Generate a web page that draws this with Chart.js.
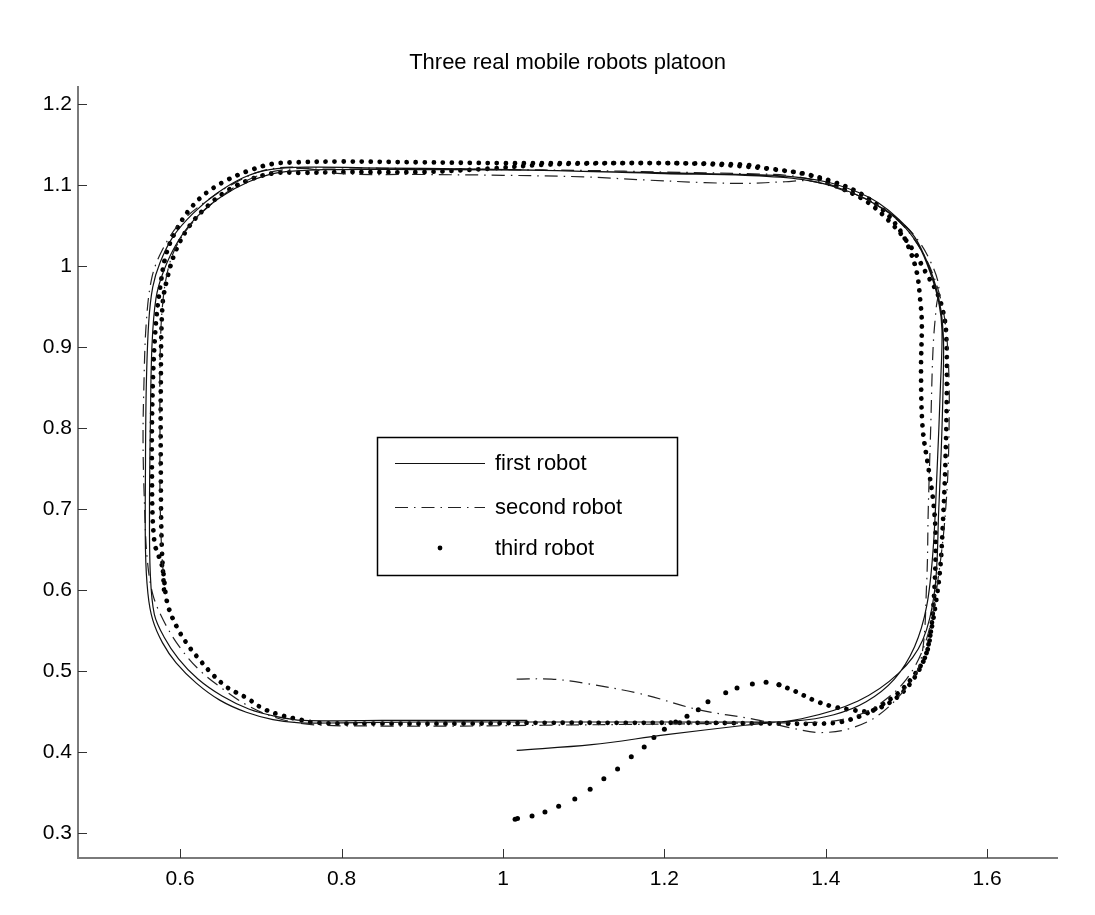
<!DOCTYPE html>
<html>
<head>
<meta charset="utf-8">
<title>Three real mobile robots platoon</title>
<script src="https://cdn.jsdelivr.net/npm/chart.js@4/dist/chart.umd.min.js"></script>
<style>
  html, body { margin: 0; padding: 0; background: #fff; }
  #chartPlatoon { display: block; }
</style>
</head>
<body>
<canvas id="chartPlatoon" width="1095" height="915"></canvas>
<script>
const _ = (id) => document.getElementById(id)

// axes
const xTicks = [0.6, 0.8, 1, 1.2, 1.4, 1.6]
const yTicks = [0.3, 0.4, 0.5, 0.6, 0.7, 0.8, 0.9, 1, 1.1, 1.2]
const xRange = [0.4734, 1.6865]
const yRange = [0.2691, 1.221]

const chartTitle = 'Three real mobile robots platoon'
const robotLabels = ['first robot', 'second robot', 'third robot']

// first robot (solid), two laps
const robot1X = [
  1.017, 1.11, 1.2, 1.3, 1.37, 1.44, 1.49, 1.52, 1.535, 1.54, 1.544, 1.546,
  1.544, 1.54, 1.533, 1.523, 1.51, 1.49, 1.465, 1.44, 1.4, 1.35, 1.25, 1.1,
  0.95, 0.85, 0.76, 0.711, 0.678, 0.646, 0.616, 0.591, 0.575, 0.566, 0.561,
  0.558, 0.557, 0.557, 0.56, 0.566, 0.578, 0.595, 0.62, 0.649, 0.682, 0.715,
  0.748, 0.8, 0.9, 1.0, 1.1, 1.2, 1.3, 1.36,
  1.41, 1.45, 1.485, 1.51, 1.525, 1.533, 1.538, 1.542, 1.544, 1.54, 1.53,
  1.515, 1.49, 1.46, 1.42, 1.37, 1.3, 1.2, 1.05, 0.9, 0.78, 0.72, 0.685, 0.65,
  0.62, 0.597, 0.58, 0.57, 0.565, 0.563, 0.562, 0.563, 0.568, 0.58, 0.598,
  0.622, 0.652, 0.685, 0.718, 0.752, 0.85, 0.95, 1.03,
]
const robot1Y = [
  0.402, 0.409, 0.421, 0.433, 0.441, 0.463, 0.497, 0.538, 0.6, 0.7, 0.8, 0.9,
  0.935, 0.96, 0.986, 1.011, 1.036, 1.058, 1.078, 1.091, 1.104, 1.111, 1.114,
  1.117, 1.12, 1.121, 1.122, 1.119, 1.109, 1.09, 1.065, 1.036, 1.004, 0.974,
  0.93, 0.85, 0.75, 0.65, 0.596, 0.563, 0.535, 0.51, 0.485, 0.464, 0.449,
  0.44, 0.436, 0.436, 0.437, 0.437, 0.437, 0.437, 0.437, 0.438,
  0.446, 0.462, 0.49, 0.53, 0.58, 0.65, 0.75, 0.85, 0.92, 0.955, 0.99,
  1.025, 1.056, 1.077, 1.095, 1.107, 1.112, 1.114, 1.118, 1.119, 1.119,
  1.115, 1.104, 1.085, 1.06, 1.03, 0.995, 0.96, 0.9, 0.8, 0.7, 0.62, 0.57,
  0.542, 0.515, 0.49, 0.469, 0.453, 0.444, 0.439, 0.439, 0.439, 0.439,
]

// second robot (dash-dot), two laps
const robot2X = [
  1.017, 1.06, 1.1, 1.17, 1.243, 1.313, 1.36, 1.394, 1.43, 1.466, 1.5, 1.518,
  1.525, 1.527, 1.53, 1.533, 1.537, 1.54, 1.53, 1.512, 1.49, 1.46, 1.42, 1.38,
  1.35, 1.3, 1.25, 1.18, 1.1, 1.0, 0.9, 0.8, 0.74, 0.7, 0.665, 0.632, 0.599,
  0.578, 0.565, 0.558, 0.555, 0.554, 0.556, 0.559, 0.566, 0.579, 0.599, 0.624,
  0.654, 0.686, 0.72, 0.76, 0.85, 0.95, 1.05, 1.15, 1.25, 1.33,
  1.37, 1.42, 1.46, 1.5, 1.525, 1.54, 1.55, 1.553, 1.552, 1.548, 1.54, 1.527,
  1.508, 1.485, 1.452, 1.41, 1.36, 1.3, 1.2, 1.1, 1.0, 0.9, 0.8, 0.73, 0.69,
  0.655, 0.625, 0.6, 0.586, 0.578, 0.575, 0.575, 0.575, 0.577, 0.58,
]
const robot2Y = [
  0.49, 0.49, 0.485, 0.472, 0.452, 0.44, 0.429, 0.424, 0.429, 0.446, 0.48,
  0.514, 0.609, 0.7, 0.8, 0.9, 0.95, 0.975, 1.005, 1.035, 1.057, 1.078, 1.094,
  1.105, 1.104, 1.102, 1.103, 1.106, 1.11, 1.112, 1.113, 1.114, 1.122, 1.117,
  1.101, 1.08, 1.052, 1.02, 0.986, 0.93, 0.85, 0.78, 0.7, 0.64, 0.595, 0.563,
  0.53, 0.501, 0.477, 0.456, 0.442, 0.434, 0.432, 0.432, 0.433, 0.434, 0.435,
  0.436,
  0.436, 0.44, 0.455, 0.49, 0.54, 0.62, 0.72, 0.82, 0.88, 0.93, 0.968, 1.003,
  1.035, 1.06, 1.081, 1.099, 1.111, 1.114, 1.116, 1.118, 1.119, 1.12, 1.121,
  1.119, 1.109, 1.089, 1.064, 1.033, 1.0, 0.95, 0.88, 0.8, 0.72, 0.65, 0.61,
]

// third robot: separate samples while it accelerates out of the start
const robot3StartX = [
  1.015, 1.018, 1.036, 1.052, 1.069, 1.089, 1.108, 1.125, 1.142, 1.159, 1.175,
  1.187, 1.2, 1.214, 1.228, 1.242, 1.254, 1.276, 1.29, 1.309, 1.326, 1.342,
]
const robot3StartY = [
  0.317, 0.318, 0.321, 0.326, 0.333, 0.342, 0.354, 0.367, 0.379, 0.394, 0.406,
  0.418, 0.428, 0.437, 0.444, 0.452, 0.462, 0.473, 0.479, 0.484, 0.486, 0.483,
]

// third robot, rest of the run (drawn as dense dots)
const robot3X = [
  1.342, 1.362, 1.385, 1.409, 1.432, 1.451, 1.466, 1.489, 1.508, 1.523, 1.53,
  1.537, 1.542, 1.545, 1.548, 1.55, 1.549, 1.545, 1.538, 1.525, 1.508, 1.482,
  1.45, 1.41, 1.377, 1.33, 1.3, 1.2, 1.1, 1.0, 0.9, 0.8, 0.744, 0.714, 0.686,
  0.658, 0.632, 0.611, 0.595, 0.583, 0.576, 0.57, 0.566, 0.565, 0.568, 0.578,
  0.584, 0.596, 0.611, 0.624, 0.638, 0.658, 0.682, 0.702, 0.723, 0.748, 0.769,
  0.85, 0.95, 1.05, 1.15, 1.25, 1.347, 1.394,
  1.418, 1.442, 1.466, 1.49, 1.508, 1.523, 1.53, 1.535, 1.536, 1.533, 1.527,
  1.52, 1.518, 1.519, 1.517, 1.513, 1.504, 1.492, 1.471, 1.442, 1.409, 1.377,
  1.33, 1.25, 1.15, 1.05, 0.98, 0.9, 0.8, 0.751, 0.719, 0.69, 0.66, 0.635,
  0.612, 0.595, 0.584, 0.578, 0.576, 0.576, 0.577, 0.58,
]
const robot3Y = [
  0.483, 0.475, 0.464, 0.456, 0.452, 0.45, 0.454, 0.468, 0.489, 0.517, 0.547,
  0.588, 0.629, 0.68, 0.75, 0.85, 0.92, 0.945, 0.967, 0.99, 1.02, 1.052, 1.08,
  1.1, 1.113, 1.12, 1.125, 1.127, 1.127, 1.127, 1.128, 1.129, 1.128, 1.126,
  1.118, 1.106, 1.09, 1.069, 1.044, 1.016, 0.979, 0.93, 0.85, 0.75, 0.66,
  0.628, 0.584, 0.554, 0.53, 0.514, 0.498, 0.48, 0.467, 0.454, 0.446, 0.44,
  0.436, 0.435, 0.435, 0.436, 0.436, 0.436, 0.435, 0.435,
  0.437, 0.444, 0.456, 0.473, 0.493, 0.517, 0.547, 0.609, 0.67, 0.711, 0.752,
  0.8, 0.87, 0.93, 0.958, 0.991, 1.02, 1.044, 1.069, 1.09, 1.104, 1.113,
  1.12, 1.126, 1.127, 1.125, 1.12, 1.116, 1.116, 1.115, 1.115, 1.108,
  1.094, 1.075, 1.05, 1.02, 0.985, 0.95, 0.85, 0.75, 0.66, 0.6,
]

const fontFamily = '"Liberation Sans", Arial, Helvetica, sans-serif'
Chart.defaults.font.family = fontFamily
Chart.defaults.color = '#000'

const toPoints = (xs, ys) => xs.map((x, i) => ({ x, y: ys[i] }))
const tickLabel = (v) => String(Math.round(v * 10) / 10)

// matlab-like tick marks pointing into the plot
const inwardTicks = {
  id: 'inwardTicks',
  afterDraw(chart) {
    const { ctx, scales } = chart
    const { x, y } = scales
    ctx.save()
    ctx.strokeStyle = '#333'
    ctx.lineWidth = 1
    ctx.beginPath()
    x.ticks.forEach((t) => {
      const px = Math.round(x.getPixelForValue(t.value)) + 0.5
      ctx.moveTo(px, x.top)
      ctx.lineTo(px, x.top - 9)
    })
    y.ticks.forEach((t) => {
      const py = Math.round(y.getPixelForValue(t.value)) + 0.5
      ctx.moveTo(y.right, py)
      ctx.lineTo(y.right + 9, py)
    })
    ctx.stroke()
    ctx.restore()
  },
}

// boxed legend sitting inside the plot
const boxLegend = {
  id: 'boxLegend',
  afterDraw(chart) {
    const ctx = chart.ctx
    const rows = [463, 507, 548]
    ctx.save()
    ctx.fillStyle = '#fff'
    ctx.fillRect(377, 437, 300, 138)
    ctx.strokeStyle = '#000'
    ctx.lineWidth = 1.5
    ctx.strokeRect(377.5, 437.5, 300, 138)
    ctx.font = `22px ${fontFamily}`
    ctx.textBaseline = 'middle'
    robotLabels.forEach((label, i) => {
      const ds = chart.data.datasets[i]
      const ry = rows[i]
      ctx.strokeStyle = ds.borderColor
      ctx.fillStyle = ds.borderColor
      if (i === 2) {
        ctx.beginPath()
        ctx.arc(440, ry, 2.4, 0, Math.PI * 2)
        ctx.fill()
      } else {
        ctx.lineWidth = ds.borderWidth
        ctx.setLineDash(ds.borderDash || [])
        ctx.beginPath()
        ctx.moveTo(395, ry + 0.5)
        ctx.lineTo(485, ry + 0.5)
        ctx.stroke()
        ctx.setLineDash([])
      }
      ctx.fillStyle = '#000'
      ctx.fillText(label, 495, ry + 1)
    })
    ctx.restore()
  },
}

new Chart(_('chartPlatoon'), {
  type: 'scatter',
  data: {
    datasets: [
      {
        label: robotLabels[0],
        data: toPoints(robot1X, robot1Y),
        showLine: true,
        borderColor: '#111',
        borderWidth: 1.2,
        pointRadius: 0,
        tension: 0.35,
      },
      {
        label: robotLabels[1],
        data: toPoints(robot2X, robot2Y),
        showLine: true,
        borderColor: '#222',
        borderWidth: 1.2,
        borderDash: [13, 6, 1.5, 6],
        pointRadius: 0,
        tension: 0.35,
      },
      {
        label: robotLabels[2],
        data: toPoints(robot3X, robot3Y),
        showLine: true,
        borderColor: '#000',
        borderWidth: 4.8,
        borderDash: [0.01, 9],
        borderCapStyle: 'round',
        pointRadius: 0,
        tension: 0.35,
      },
      {
        label: robotLabels[2],
        data: toPoints(robot3StartX, robot3StartY),
        showLine: false,
        pointRadius: 2.5,
        pointBorderWidth: 0,
        pointBackgroundColor: '#000',
      },
    ],
  },
  options: {
    responsive: false,
    animation: false,
    devicePixelRatio: 1,
    layout: { padding: { left: 0, right: 38, top: 0, bottom: 0 } },
    plugins: {
      legend: { display: false },
      tooltip: { enabled: false },
      title: {
        display: true,
        text: chartTitle,
        fullSize: false,
        color: '#000',
        font: { size: 22, weight: 'normal', lineHeight: 1.2 },
        padding: { top: 50, bottom: 10.6 },
      },
    },
    scales: {
      x: {
        type: 'linear',
        min: xRange[0],
        max: xRange[1],
        afterBuildTicks: (s) => {
          s.ticks = xTicks.map((v) => ({ value: v }))
        },
        afterFit: (s) => {
          s.height = 57
        },
        grid: { display: false, drawTicks: false },
        border: { display: true, color: '#7a7a7a', width: 2 },
        ticks: {
          color: '#000',
          font: { size: 21 },
          padding: 9,
          maxRotation: 0,
          autoSkip: false,
          callback: tickLabel,
        },
      },
      y: {
        type: 'linear',
        min: yRange[0],
        max: yRange[1],
        afterBuildTicks: (s) => {
          s.ticks = yTicks.map((v) => ({ value: v }))
        },
        afterFit: (s) => {
          s.width = 78
        },
        grid: { display: false, drawTicks: false },
        border: { display: true, color: '#7a7a7a', width: 2 },
        ticks: {
          color: '#000',
          font: { size: 21 },
          padding: 6,
          autoSkip: false,
          callback: tickLabel,
        },
      },
    },
  },
  plugins: [inwardTicks, boxLegend],
})
</script>
</body>
</html>
